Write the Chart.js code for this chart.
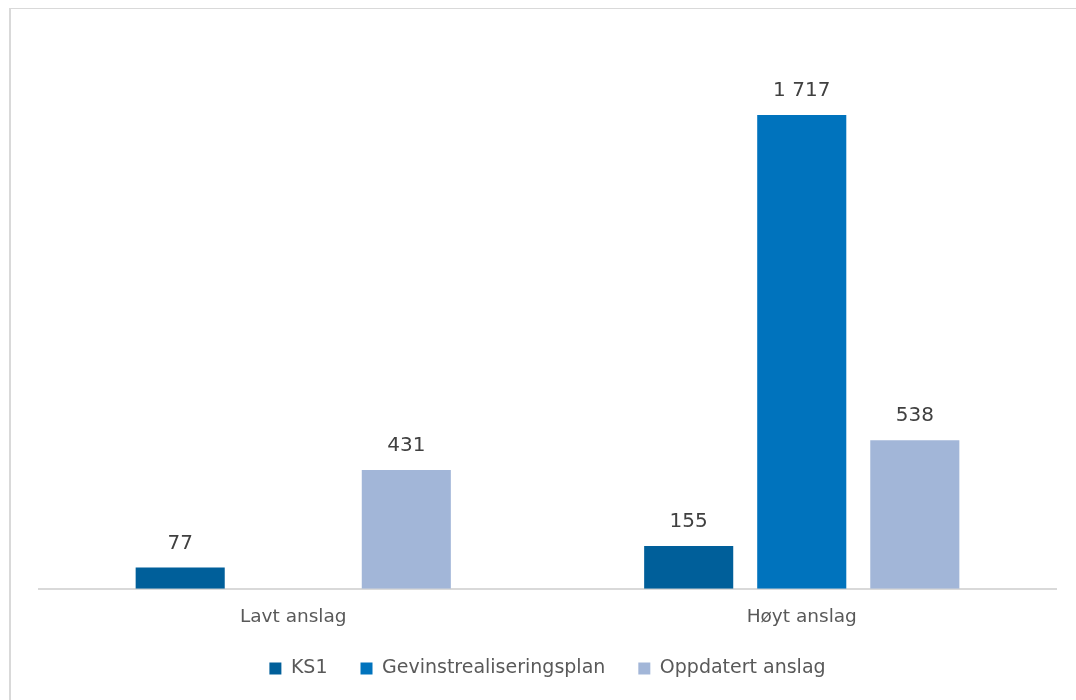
<!DOCTYPE html>
<html lang="no">
<head>
<meta charset="utf-8">
<title>Gevinstanslag</title>
<script src="https://cdn.jsdelivr.net/npm/chart.js@4/dist/chart.umd.min.js"></script>
<style>
    html, body { margin: 0; padding: 0; background: #fff; overflow: hidden; }
    #ramme {
        position: absolute; left: 9px; top: 8px; width: 1200px; height: 800px;
        border-top: 1px solid #d9d9d9; border-left: 2px solid #d9d9d9;
    }
    #gevinstChart { position: absolute; left: 0; top: 0; }
</style>
</head>
<body>
<div id="ramme"></div>
<canvas id="gevinstChart" width="1076" height="700"></canvas>
<script>
// Kategorier og serier
var kategorier = ['Lavt anslag', 'Høyt anslag'];
var serieNavn = ['KS1', 'Gevinstrealiseringsplan', 'Oppdatert anslag'];
var ks1 = [77, 155];
var gevinstplan = [null, 1717];   // ingen verdi for lavt anslag
var oppdatert = [431, 538];
var farger = ['#005f9a', '#0073bd', '#a2b6d8'];

// Tall med mellomrom som tusenskille (1 717)
function formaterTall(v) {
    return String(v).replace(/\B(?=(\d{3})+(?!\d))/g, ' ');
}

// Enkel plugin som skriver verdien over hver søyle
var verdiEtiketter = {
    id: 'verdiEtiketter',
    afterDatasetsDraw: function(chart) {
        var ctx = chart.ctx;
        ctx.save();
        ctx.font = '20px "DejaVu Sans"';
        ctx.fillStyle = '#404040';
        ctx.textAlign = 'center';
        ctx.textBaseline = 'alphabetic';
        chart.data.datasets.forEach(function(ds, i) {
            var meta = chart.getDatasetMeta(i);
            meta.data.forEach(function(bar, j) {
                var v = ds.data[j];
                if (v === null || v === undefined) return;
                ctx.fillText(formaterTall(v), bar.x, bar.y - 19);
            });
        });
        ctx.restore();
    }
};

document.addEventListener('DOMContentLoaded', function() {
    var ctx = document.getElementById('gevinstChart').getContext('2d');
    var serier = [ks1, gevinstplan, oppdatert];

    new Chart(ctx, {
        type: 'bar',
        data: {
            labels: kategorier,
            datasets: serier.map(function(d, i) {
                return {
                    label: serieNavn[i],
                    data: d,
                    backgroundColor: farger[i],
                    borderWidth: 0,
                    categoryPercentage: 0.667,
                    barPercentage: 0.788
                };
            })
        },
        options: {
            responsive: false,
            animation: false,
            devicePixelRatio: 1,
            layout: {
                padding: { left: 39, right: 20, top: 37, bottom: 12 }
            },
            scales: {
                x: {
                    grid: { display: false, drawTicks: false },
                    border: { color: '#d9d9d9', width: 2 },
                    ticks: {
                        padding: 17,
                        color: '#595959',
                        font: { family: '"DejaVu Sans"', size: 18.5 }
                    }
                },
                y: {
                    display: false,
                    min: 0,
                    max: 2000
                }
            },
            plugins: {
                legend: {
                    position: 'bottom',
                    labels: {
                        boxWidth: 12,
                        boxHeight: 12,
                        padding: 14,
                        color: '#595959',
                        font: { family: '"DejaVu Sans"', size: 19 },
                        // ekstra luft mellom forklaringene (em-mellomrom bak teksten)
                        generateLabels: function(chart) {
                            var items = Chart.defaults.plugins.legend.labels.generateLabels(chart);
                            items.forEach(function(it, i) {
                                if (i < items.length - 1) it.text = it.text + '\u2003';
                            });
                            return items;
                        }
                    }
                },
                tooltip: { enabled: false }
            }
        },
        plugins: [verdiEtiketter]
    });
});
</script>
</body>
</html>
